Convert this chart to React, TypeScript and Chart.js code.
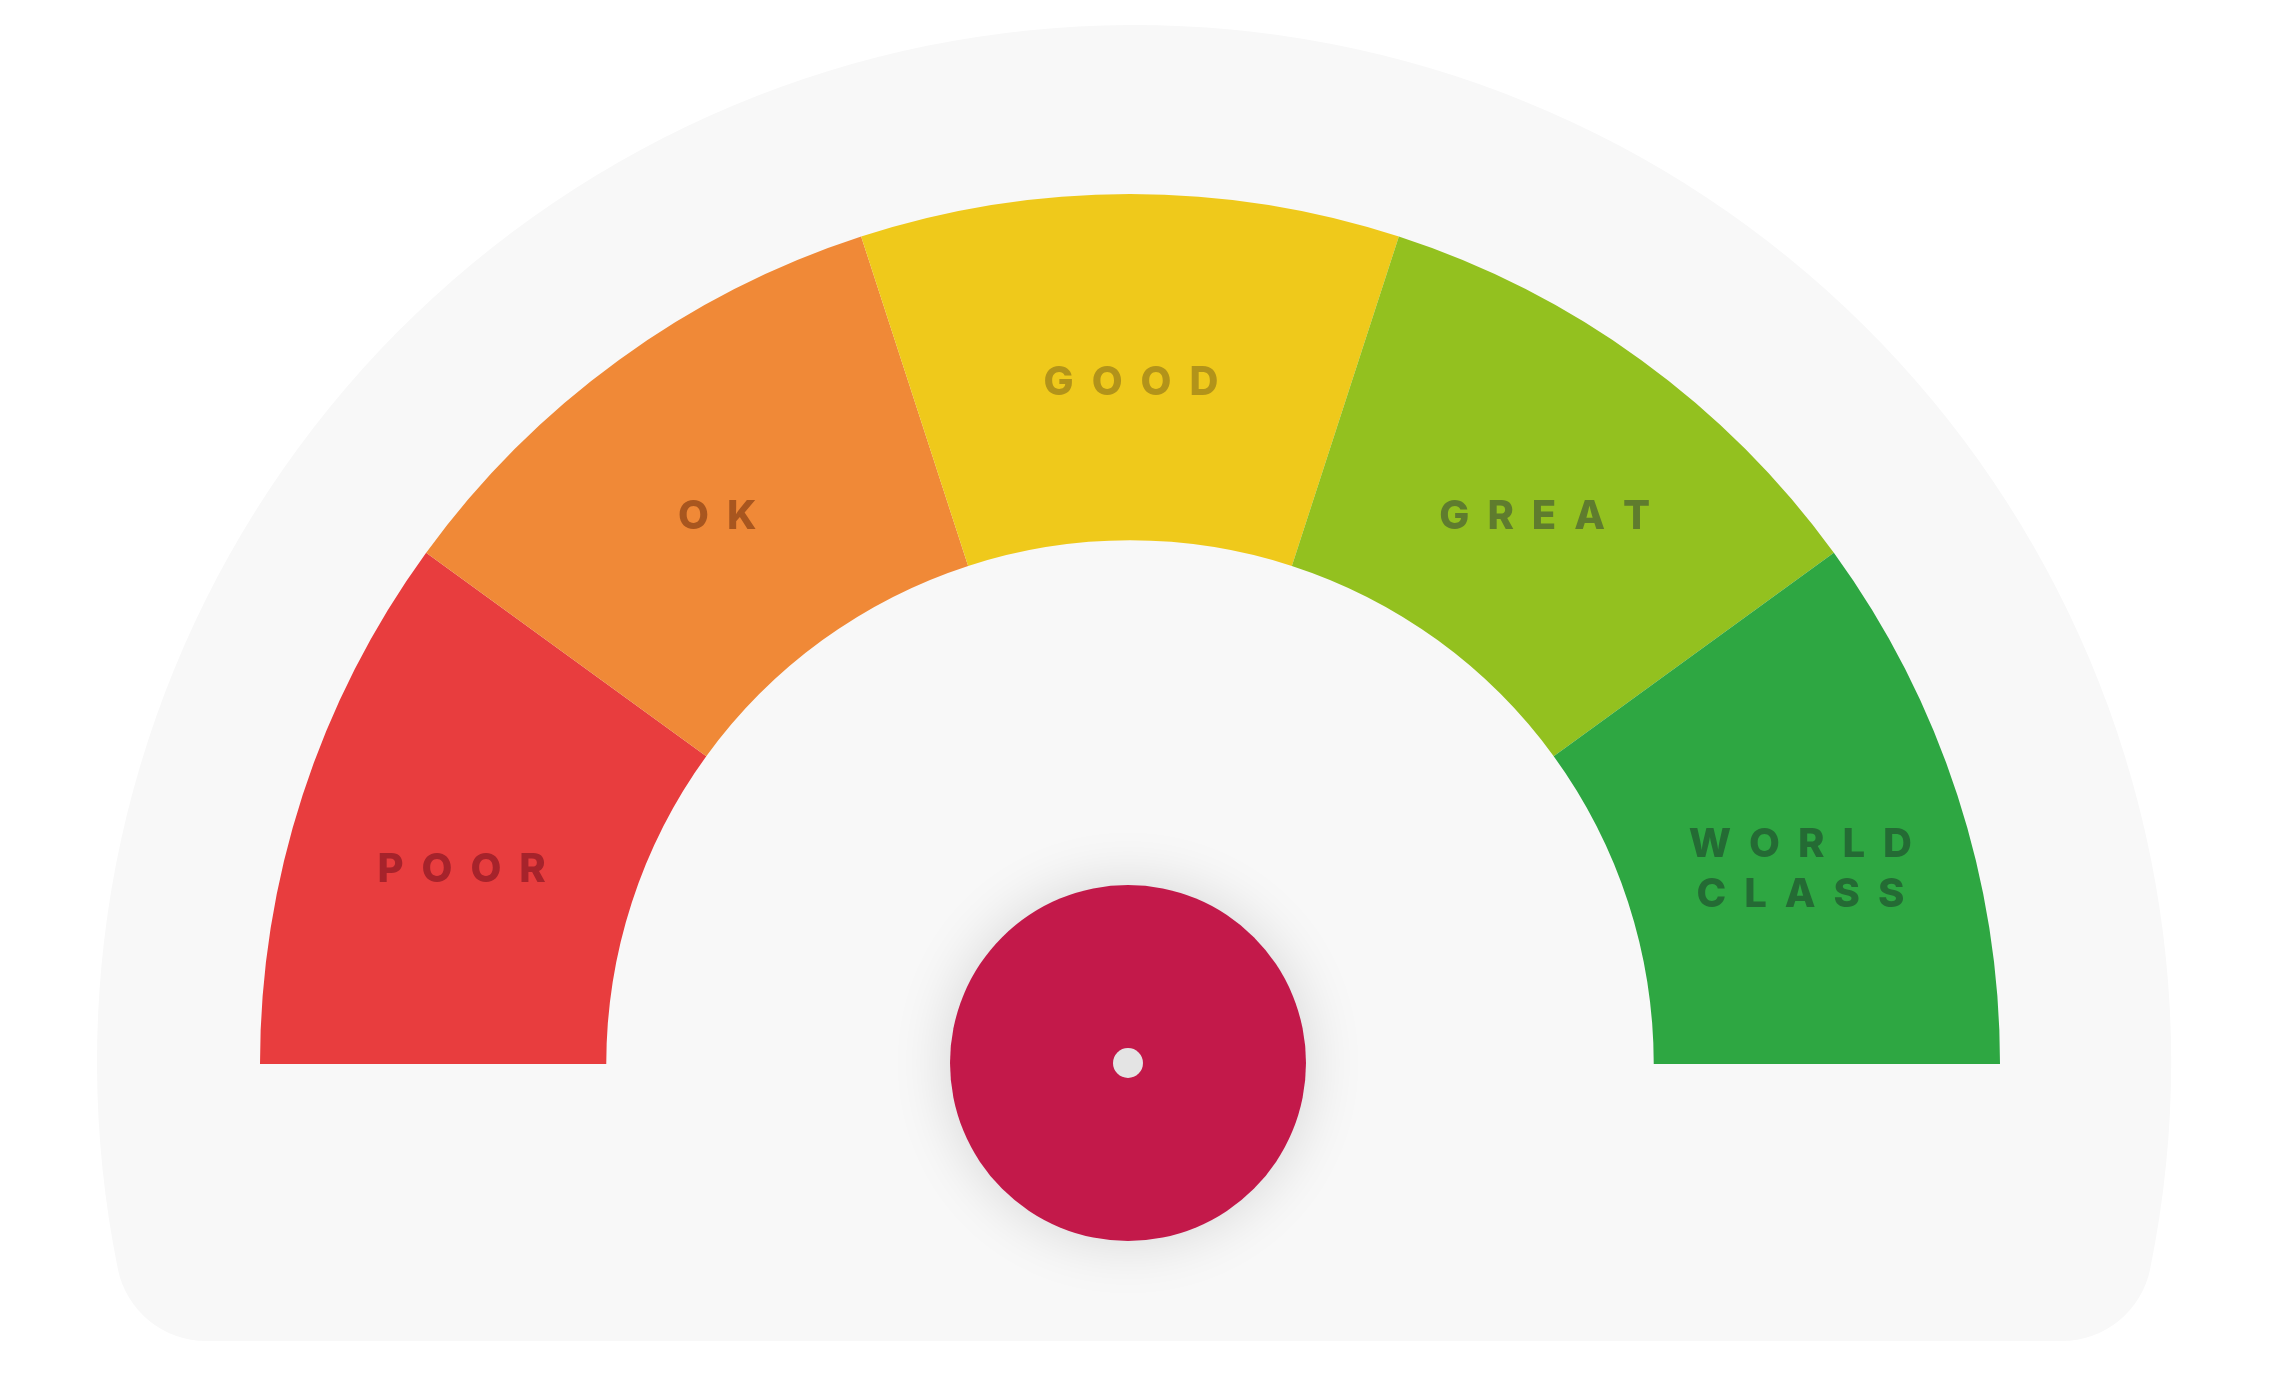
import React, { useEffect, useRef } from 'react';
import { Chart, registerables } from 'chart.js';

Chart.register(...registerables);

const categories = ['POOR', 'OK', 'GOOD', 'GREAT', 'WORLD CLASS'];
const segmentValues = [20, 20, 20, 20, 20];
const segmentColors = ['#E83D3E', '#F08937', '#EFC91B', '#93C11F', '#2EA742'];
const labelColors = ['#A6232B', '#A8561F', '#B2931A', '#5F7C2E', '#246B34'];

const W = 2269;
const H = 1382;

function drawSpaced(ctx: CanvasRenderingContext2D, text: string, cx: number, y: number, spacing: number) {
  const chars = Array.from(text);
  const widths = chars.map((c) => ctx.measureText(c).width);
  const total = widths.reduce((a, b) => a + b, 0) + spacing * (chars.length - 1);
  let x = cx - total / 2;
  chars.forEach((c, i) => {
    ctx.fillText(c, x, y);
    x += widths[i] + spacing;
  });
}

export default function App() {
  const ref = useRef<HTMLCanvasElement>(null);

  useEffect(() => {
    if (!ref.current) return;

    const gaugePlugin = {
      id: 'gaugeDecor',
      beforeDatasetsDraw(chart: any) {
        const arc = chart.getDatasetMeta(0).data[0];
        if (!arc) return;
        const { x: gx, y: gy } = arc.getProps(['x', 'y'], true);
        const cx = gx + 4;
        const cy = gy - 2;
        const ctx = chart.ctx as CanvasRenderingContext2D;
        const R = 1037;
        const B = cy + 279;
        const rf = 90;
        const dy = B - rf - cy;
        const dx = Math.sqrt((R - rf) ** 2 - dy ** 2);
        const phi = Math.atan2(dy, dx);
        ctx.save();
        ctx.beginPath();
        ctx.arc(cx, cy, R, Math.PI - phi, 2 * Math.PI + phi, false);
        ctx.arc(cx + dx, B - rf, rf, phi, Math.PI / 2, false);
        ctx.lineTo(cx - dx, B);
        ctx.arc(cx - dx, B - rf, rf, Math.PI / 2, Math.PI - phi, false);
        ctx.closePath();
        ctx.fillStyle = '#F8F8F8';
        ctx.fill();
        ctx.restore();
      },
      afterDatasetsDraw(chart: any) {
        const meta = chart.getDatasetMeta(0);
        const ctx = chart.ctx as CanvasRenderingContext2D;
        const arc0 = meta.data[0];
        const { x: cx, y: cy } = arc0.getProps(['x', 'y'], true);
        const spacing = 18;
        ctx.save();
        ctx.font = '800 40px Inter, "Open Sans", sans-serif';
        ctx.textAlign = 'left';
        ctx.textBaseline = 'middle';
        meta.data.forEach((el: any, i: number) => {
          const p = el.tooltipPosition(true);
          const px = cx + (p.x - cx) * 1.01 + 1;
          const py = cy + (p.y - cy) * 1.012 + 24;
          const lines = categories[i].split(' ');
          const lh = 50;
          const y0 = py - ((lines.length - 1) * lh) / 2;
          ctx.fillStyle = labelColors[i];
          lines.forEach((ln, j) => {
            drawSpaced(ctx, ln, px, y0 + j * lh, spacing);
          });
        });
        ctx.restore();

        const ccx = cx - 2;
        const ccy = cy - 1;
        ctx.save();
        ctx.shadowColor = 'rgba(0,0,0,0.14)';
        ctx.shadowBlur = 60;
        ctx.beginPath();
        ctx.arc(ccx, ccy, 178, 0, Math.PI * 2);
        ctx.fillStyle = '#C3194A';
        ctx.fill();
        ctx.restore();
        ctx.save();
        ctx.beginPath();
        ctx.arc(ccx, ccy, 15, 0, Math.PI * 2);
        ctx.fillStyle = '#E4E4E4';
        ctx.fill();
        ctx.restore();
      },
    };

    const chart = new Chart(ref.current, {
      type: 'doughnut',
      data: {
        labels: categories,
        datasets: [
          {
            data: segmentValues,
            backgroundColor: segmentColors,
            borderWidth: 0,
            hoverOffset: 0,
          },
        ],
      },
      options: {
        responsive: false,
        animation: false,
        devicePixelRatio: 1,
        rotation: -90,
        circumference: 180,
        cutout: '60.2%',
        layout: { padding: { left: 260, top: 194, right: 269, bottom: 318 } },
        plugins: {
          legend: { display: false },
          tooltip: { enabled: false },
        },
        events: [],
      },
      plugins: [gaugePlugin],
    });
    return () => chart.destroy();
  }, []);

  return (
    <canvas
      ref={ref}
      width={W}
      height={H}
      style={{ position: 'fixed', left: 0, top: 0, width: W + 'px', height: H + 'px' }}
    />
  );
}
